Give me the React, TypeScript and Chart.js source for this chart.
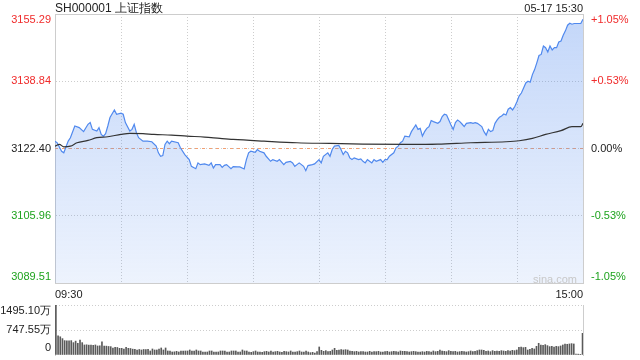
import React, { useEffect, useRef } from 'react';
import { Chart, registerables } from 'chart.js';

Chart.register(...registerables);

const titleText = 'SH000001 上证指数';
const dateTimeText = '05-17 15:30';
const watermark = 'sina.com';

const prevClose = 3122.4;
const priceTicks = [3089.51, 3105.96, 3122.4, 3138.84, 3155.29];
const timeTickMinutes = [0, 30, 60, 90, 120, 150, 180, 210, 240];
const timeLabels = ['09:30', '', '', '', '', '', '', '', '15:00'];
const volumeTicks = [0, 747.55, 1495.1];
const volumeTickLabels = ['0', '747.55万', '1495.10万'];

const priceMinutes = [
  0, 1, 3, 4, 6, 7, 9, 11, 13, 15, 16, 17, 19, 20, 21, 22, 23, 24, 25, 27, 28, 30, 31, 32, 34, 35, 36, 37, 38, 40,
  42, 44, 46, 47, 48, 49, 50, 51, 52, 53, 56, 57, 59, 61, 62, 64, 65, 66, 68, 70, 71, 72, 73, 75, 76, 77, 78, 80, 81,
  83, 84, 86, 87, 88, 89, 91, 92, 93, 95, 96, 98, 99, 101, 102, 104, 105, 107, 108, 109, 110, 111, 113, 114, 115, 117,
  118, 120, 121, 122, 124, 125, 126, 127, 129, 130, 131, 132, 133, 134, 135, 136, 138, 139, 140, 141, 142, 143, 144,
  145, 146, 148, 149, 150, 151, 152, 154, 155, 156, 157, 158, 159, 161, 162, 164, 165, 166, 167, 168, 169, 170, 171,
  172, 174, 175, 176, 177, 178, 179, 180, 181, 182, 183, 184, 185, 186, 187, 189, 190, 191, 192, 194, 195, 196, 197,
  198, 199, 200, 201, 202, 203, 204, 205, 206, 207, 208, 209, 210, 211, 212, 213, 214, 215, 216, 217, 218, 219, 220,
  221, 222, 223, 224, 225, 226, 227, 228, 229, 230, 231, 232, 233, 234, 235, 236, 238, 239, 240,
];
const priceValues = [
  3124.2, 3123.8, 3121.73, 3121.34, 3124.2, 3125.04, 3127.9, 3127.5, 3126.52, 3128.32, 3128.74, 3127.08, 3126.66,
  3127.5, 3125.85, 3125.43, 3126.02, 3127.9, 3129.97, 3131.84, 3130.78, 3131.03, 3130.78, 3128.74, 3126.66, 3127.08,
  3128.32, 3126.27, 3125.04, 3124.2, 3124.2, 3124.05, 3122.97, 3121.34, 3120.5, 3120.67, 3123.39, 3124.2, 3123.56,
  3124.2, 3123.8, 3122.57, 3120.92, 3119.69, 3118.04, 3117.47, 3118.88, 3118.46, 3118.63, 3118.28, 3118.88, 3117.64,
  3118.46, 3118.46, 3117.79, 3118.28, 3118.46, 3117.47, 3117.96, 3117.89, 3117.89, 3117.4, 3119.69, 3121.34, 3121.73,
  3121.49, 3122.15, 3121.73, 3121.34, 3120.5, 3119.27, 3119.69, 3119.27, 3119.69, 3118.46, 3119.02, 3119.27, 3118.88,
  3118.04, 3118.46, 3118.88, 3118.04, 3116.98, 3118.21, 3118.46, 3118.63, 3119.69, 3118.88, 3120.5, 3121.34, 3120.5,
  3122.15, 3122.97, 3123.14, 3122.15, 3120.92, 3121.73, 3121.34, 3120.11, 3119.69, 3120.11, 3119.69, 3119.86, 3119.27,
  3118.88, 3119.69, 3119.27, 3118.88, 3119.69, 3119.27, 3119.69, 3119.02, 3119.69, 3119.69, 3120.5, 3121.34, 3122.57,
  3122.97, 3123.8, 3124.2, 3125.43, 3125.23, 3126.52, 3128.14, 3127.08, 3127.33, 3125.43, 3126.52, 3127.33, 3127.75,
  3129.23, 3128.98, 3128.56, 3128.98, 3130.21, 3130.78, 3130.61, 3129.38, 3128.14, 3127.08, 3128.74, 3129.38, 3128.98,
  3128.39, 3127.75, 3128.56, 3128.74, 3128.56, 3128.74, 3128.56, 3127.75, 3126.52, 3125.68, 3127.08, 3126.52, 3126.76,
  3128.56, 3129.38, 3130.04, 3130.36, 3130.85, 3130.61, 3132.01, 3132.43, 3131.84, 3132.68, 3133.91, 3135.29, 3135.96,
  3137.19, 3138.42, 3138.84, 3138.6, 3140.47, 3141.7, 3143.35, 3145.15, 3145.4, 3147.47, 3147.05, 3145.99, 3147.47,
  3146.48, 3147.05, 3147.05, 3148.46, 3148.7, 3150.08, 3151.17, 3152.55, 3153.04, 3152.79, 3152.97, 3152.97, 3152.97,
  3154.03,
];

const avgMinutes = [0, 2, 4, 7, 10, 15, 19, 24, 30, 34, 40, 45, 53, 60, 68, 75, 81, 95, 110, 125, 140, 161, 174, 189, 205, 211, 217, 223, 230, 235, 239, 240];
const avgValues = [
  3122.97, 3123.39, 3122.82, 3122.97, 3123.8, 3124.37, 3125.04, 3125.28, 3125.85, 3126.1, 3126.02, 3125.85, 3125.68,
  3125.43, 3125.19, 3124.87, 3124.62, 3124.2, 3123.8, 3123.63, 3123.46, 3123.39, 3123.46, 3123.8, 3124.05, 3124.3,
  3124.87, 3125.85, 3126.76, 3127.75, 3127.75, 3128.56,
];

// volume per minute, in 万
const volumes = [
  1495.1, 570, 545, 490, 430, 425, 420, 430, 370, 415, 350,
  445, 370, 300, 305, 295, 300, 290, 300, 270, 275,
  395, 270, 265, 255, 250, 205, 230, 225, 200, 200,
  175, 230, 200, 195, 175, 170, 150, 165, 150, 165,
  160, 170, 120, 180, 150, 150, 180, 210, 150, 210,
  120, 120, 90, 95, 110, 90, 120, 120, 120, 120,
  150, 120, 120, 150, 120, 120, 90, 90, 90, 120,
  120, 90, 90, 90, 120, 120, 120, 90, 90, 120,
  120, 120, 90, 90, 150, 120, 120, 90, 80, 100,
  120, 90, 90, 80, 100, 110, 90, 120, 90, 100,
  110, 90, 80, 110, 100, 90, 120, 90, 90, 100,
  120, 90, 90, 120, 90, 70, 80, 60, 100, 240,
  140, 110, 130, 100, 110, 150, 200, 140, 150, 160,
  150, 160, 150, 120, 110, 100, 110, 90, 100, 100,
  90, 90, 110, 90, 100, 100, 110, 90, 90, 100,
  110, 90, 100, 110, 100, 90, 120, 110, 110, 100,
  90, 100, 110, 100, 90, 90, 100, 90, 110, 100,
  90, 120, 100, 110, 150, 120, 110, 100, 130, 110,
  100, 110, 90, 100, 110, 100, 90, 100, 120, 100,
  110, 130, 150, 150, 140, 110, 120, 100, 130, 110,
  120, 110, 130, 120, 110, 130, 120, 140, 130, 150,
  230, 240, 220, 230, 150, 170, 200, 180, 260, 350,
  300, 290, 310, 280, 250, 260, 240, 260, 250, 270,
  300, 330, 320, 330, 340, 330, 30, 25, 20, 650,
];

const FONT = "'Liberation Sans', Arial, sans-serif";
const RED = '#f02b2b';
const GREEN = '#1ea31e';
const DARK = '#222222';
const GRID = '#cdcdcd';

const tickColor = (v: number) => (v > prevClose + 0.001 ? RED : v < prevClose - 0.001 ? GREEN : DARK);
const pctLabel = (v: number) => {
  const p = ((v - prevClose) / prevClose) * 100;
  const s = p.toFixed(2);
  return (p > 0.001 ? '+' : '') + (s === '-0.00' ? '0.00' : s) + '%';
};
const edgeLabel = (text: string, index: number, count: number): string | string[] => {
  if (index === count - 1) return ['', text];
  if (index === 0) return [text, ''];
  return text;
};
const fixWidth = (w: number) => (s: any) => {
  s.width = w;
  s.paddingTop = 0;
  s.paddingBottom = 0;
};

export default function App() {
  const mainRef = useRef<HTMLCanvasElement>(null);
  const volRef = useRef<HTMLCanvasElement>(null);

  useEffect(() => {
    if (!mainRef.current || !volRef.current) return;
    const edgeFont = (size: number, bottomLh: string, topLh: string, tickValues: number[]) => (ctx: any) => {
      const v = ctx && ctx.tick ? ctx.tick.value : NaN;
      let lh: any = 1.2;
      if (v === tickValues[0]) lh = bottomLh;
      else if (v === tickValues[tickValues.length - 1]) lh = topLh;
      return { family: FONT, size, lineHeight: lh };
    };

    const main = new Chart(mainRef.current, {
      type: 'line',
      data: {
        datasets: [
          {
            label: 'avg',
            data: avgMinutes.map((m, i) => ({ x: m, y: avgValues[i] })),
            borderColor: '#333333',
            borderWidth: 1.2,
            pointRadius: 0,
            fill: false,
            cubicInterpolationMode: 'monotone',
            order: 1,
          },
          {
            label: 'price',
            data: priceMinutes.map((m, i) => ({ x: m, y: priceValues[i] })),
            borderColor: '#5089ee',
            borderWidth: 1.2,
            pointRadius: 0,
            tension: 0,
            fill: 'start',
            backgroundColor: (c: any) => {
              const ch = c.chart;
              const a = ch.chartArea;
              if (!a) return 'rgba(80,137,238,0.2)';
              const g = ch.ctx.createLinearGradient(0, a.top, 0, a.bottom);
              g.addColorStop(0, 'rgba(80,137,238,0.34)');
              g.addColorStop(1, 'rgba(80,137,238,0.1)');
              return g;
            },
            order: 2,
          },
          {
            label: 'prev',
            data: [
              { x: 0, y: prevClose },
              { x: 240, y: prevClose },
            ],
            borderColor: '#f2a073',
            borderWidth: 1,
            borderDash: [3, 4],
            pointRadius: 0,
            fill: false,
            order: 3,
          },
        ],
      } as any,
      options: {
        animation: false,
        responsive: false,
        devicePixelRatio: 1,
        events: [],
        layout: { autoPadding: false, padding: { top: 14, bottom: 0, left: 0, right: 0 } },
        plugins: { legend: { display: false }, tooltip: { enabled: false } },
        scales: {
          x: {
            type: 'linear',
            position: 'bottom',
            min: 0,
            max: 240,
            afterBuildTicks: (s: any) => {
              s.ticks = timeTickMinutes.map((v) => ({ value: v }));
            },
            afterFit: (s: any) => {
              s.height = 17;
              s.paddingLeft = 0;
              s.paddingRight = 0;
            },
            ticks: {
              align: 'inner',
              autoSkip: false,
              maxRotation: 0,
              padding: 5,
              color: DARK,
              font: { family: FONT, size: 11 },
              callback: (_v: any, i: number) => timeLabels[i],
            },
            grid: { color: GRID, lineWidth: 1, drawTicks: false },
            border: { display: true, color: GRID, dash: [1, 2] },
          },
          xTop: {
            type: 'linear',
            position: 'top',
            min: 0,
            max: 240,
            afterFit: (s: any) => {
              s.height = 0;
              s.paddingLeft = 0;
              s.paddingRight = 0;
            },
            ticks: { display: false },
            grid: { display: false, drawTicks: false },
            border: { display: true, color: GRID },
          },
          y: {
            type: 'linear',
            position: 'left',
            min: priceTicks[0],
            max: priceTicks[priceTicks.length - 1],
            afterBuildTicks: (s: any) => {
              s.ticks = priceTicks.map((v) => ({ value: v }));
            },
            afterFit: fixWidth(55),
            ticks: {
              padding: 4,
              autoSkip: false,
              color: (c: any) => tickColor(c && c.tick ? c.tick.value : prevClose),
              font: edgeFont(11, '12px', '12px', priceTicks),
              callback: (v: any, i: number) => edgeLabel(Number(v).toFixed(2), i, priceTicks.length),
            },
            grid: { color: GRID, lineWidth: 1, drawTicks: false },
            border: { display: true, color: GRID, dash: [1, 2] },
          },
          y1: {
            type: 'linear',
            position: 'right',
            min: priceTicks[0],
            max: priceTicks[priceTicks.length - 1],
            afterBuildTicks: (s: any) => {
              s.ticks = priceTicks.map((v) => ({ value: v }));
            },
            afterFit: fixWidth(57),
            ticks: {
              padding: 8,
              autoSkip: false,
              color: (c: any) => tickColor(c && c.tick ? c.tick.value : prevClose),
              font: edgeFont(11, '12px', '12px', priceTicks),
              callback: (v: any, i: number) => edgeLabel(pctLabel(Number(v)), i, priceTicks.length),
            },
            grid: { display: false, drawTicks: false },
            border: { display: true, color: GRID },
          },
        },
      } as any,
    });

    const vol = new Chart(volRef.current, {
      type: 'bar',
      data: {
        datasets: [
          {
            data: volumes.map((v, i) => ({ x: i, y: v })),
            backgroundColor: '#5a5a5a',
            borderWidth: 0,
            barThickness: 1,
          },
        ],
      } as any,
      options: {
        animation: false,
        responsive: false,
        devicePixelRatio: 1,
        events: [],
        layout: { autoPadding: false, padding: { top: 15, bottom: 5, left: 0, right: 0 } },
        plugins: { legend: { display: false }, tooltip: { enabled: false } },
        scales: {
          x: {
            type: 'linear',
            min: -0.4,
            max: 240.2,
            offset: false,
            display: false,
            grid: { offset: false },
          },
          y: {
            type: 'linear',
            position: 'left',
            min: 0,
            max: volumeTicks[volumeTicks.length - 1],
            afterBuildTicks: (s: any) => {
              s.ticks = volumeTicks.map((v) => ({ value: v }));
            },
            afterFit: fixWidth(55),
            ticks: {
              padding: 4,
              autoSkip: false,
              color: DARK,
              font: edgeFont(11, '14px', '12px', volumeTicks),
              callback: (_v: any, i: number) => edgeLabel(volumeTickLabels[i], i, volumeTicks.length),
            },
            grid: {
              color: (c: any) => (c && c.tick && c.tick.value === 0 ? 'rgba(0,0,0,0)' : GRID),
              lineWidth: 1,
              drawTicks: false,
            },
            border: { display: true, color: GRID, dash: [1, 2] },
          },
          y1: {
            type: 'linear',
            position: 'right',
            min: 0,
            max: volumeTicks[volumeTicks.length - 1],
            afterFit: fixWidth(57),
            ticks: { display: false },
            grid: { display: false, drawTicks: false },
            border: { display: true, color: GRID },
          },
        },
      } as any,
    });

    return () => {
      main.destroy();
      vol.destroy();
    };
  }, []);

  return (
    <div
      style={{
        position: 'fixed',
        left: 0,
        top: 0,
        width: 640,
        height: 360,
        background: '#ffffff',
        fontFamily: FONT,
        overflow: 'hidden',
      }}
    >
      <canvas ref={mainRef} width={640} height={300} style={{ position: 'absolute', left: 0, top: 0 }} />
      <canvas ref={volRef} width={640} height={70} style={{ position: 'absolute', left: 0, top: 290 }} />
      <div
        style={{
          position: 'absolute',
          left: 55,
          top: 1,
          fontSize: 12,
          lineHeight: '15px',
          color: DARK,
          whiteSpace: 'nowrap',
        }}
      >
        {titleText}
      </div>
      <div
        style={{
          position: 'absolute',
          right: 57,
          top: 1,
          fontSize: 11,
          lineHeight: '15px',
          color: DARK,
          whiteSpace: 'nowrap',
        }}
      >
        {dateTimeText}
      </div>
      <div
        style={{
          position: 'absolute',
          left: 533,
          top: 272,
          fontSize: 11,
          lineHeight: '14px',
          color: '#c8c8c8',
          whiteSpace: 'nowrap',
        }}
      >
        {watermark}
      </div>
    </div>
  );
}
